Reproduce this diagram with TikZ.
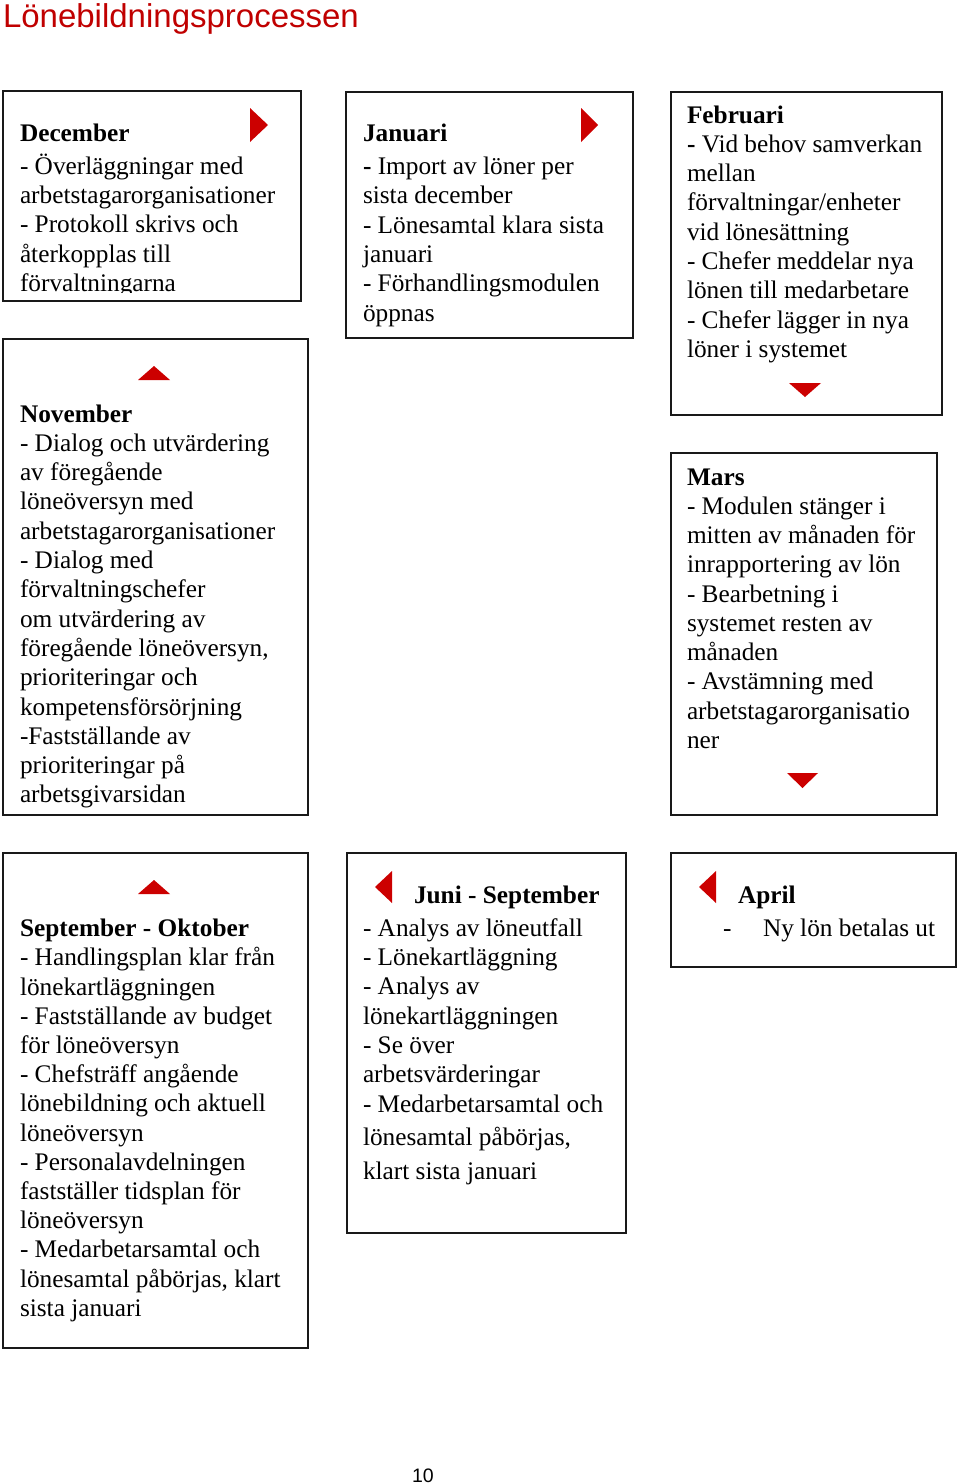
\documentclass[tikz,border=0pt]{standalone}
\usepackage{fontspec}
\setmainfont{Liberation Serif}
\newfontfamily\titlefont{Liberation Sans}
\definecolor{titlered}{RGB}{192,0,0}
\definecolor{trired}{RGB}{204,0,0}
\newcommand{\boxbody}[3]{\parbox[t]{#1}{\fontsize{25.3pt}{#2}\selectfont\raggedright #3}}
\tikzset{
  box/.style={draw=black!90, line width=1.8pt, anchor=north west, inner sep=0pt, outer sep=0pt},
  txt/.style={anchor=base west, inner sep=0pt, outer sep=0pt},
  bodyfont/.style={font=\fontsize{25.3pt}{29.2pt}\selectfont},
  tri/.style={fill=trired, draw=none},
}
\begin{document}
\begin{tikzpicture}[x=1pt,y=-1pt]
\useasboundingbox (0,0) rectangle (960,1484);
% title
\node[txt, font=\titlefont\fontsize{33pt}{37pt}\selectfont, text=titlered] (title) at (3,27) {Lönebildningsprocessen};
% boxes
\node[box, minimum width=298pt, minimum height=210pt] (dec) at (3,91) {};
\node[box, minimum width=305pt, minimum height=476pt] (nov) at (3,339) {};
\node[box, minimum width=287pt, minimum height=246pt] (jan) at (346,92) {};
\node[box, minimum width=271pt, minimum height=323pt] (feb) at (671,92) {};
\node[box, minimum width=266pt, minimum height=362pt] (mar) at (671,453) {};
\node[box, minimum width=305pt, minimum height=495pt] (sep) at (3,853) {};
\node[box, minimum width=279pt, minimum height=380pt] (jun) at (347,853) {};
\node[box, minimum width=285pt, minimum height=114pt] (apr) at (671,853) {};
% triangles
\path[tri] (250,108) -- (268,125) -- (250,142) -- cycle;
\path[tri] (581,108) -- (598,125) -- (581,142) -- cycle;
\path[tri] (138,380) -- (154,366) -- (170,380) -- cycle;
\path[tri] (789,383) -- (821,383) -- (805,397) -- cycle;
\path[tri] (787,773) -- (818,773) -- (802.5,788) -- cycle;
\path[tri] (138,894) -- (154,880) -- (170,894) -- cycle;
\path[tri] (392,871) -- (375,887) -- (392,903) -- cycle;
\path[tri] (716,871) -- (699,887) -- (716,903) -- cycle;
% texts
\begin{scope}
\clip (3,91) rectangle (301,292);
\node[txt] (dectxt) at (20,141.7) {\boxbody{280pt}{29.4pt}{\textbf{December}\\[3pt]- Överläggningar med\\arbetstagarorganisationer\\- Protokoll skrivs och\\återkopplas till\\förvaltningarna}};
\end{scope}
\node[txt] (novtxt) at (20,422) {\boxbody{286pt}{29.3pt}{\textbf{November}\\- Dialog och utvärdering\\av föregående\\löneöversyn med\\arbetstagarorganisationer\\- Dialog med\\förvaltningschefer\\om utvärdering av\\föregående löneöversyn,\\prioriteringar och\\kompetensförsörjning\\-Fastställande av\\prioriteringar på\\arbetsgivarsidan}};
\node[txt] (jantxt) at (363,141.7) {\boxbody{268pt}{29.3pt}{\textbf{Januari}\\[3.5pt]\textbf{-} Import av löner per\\sista december\\- Lönesamtal klara sista\\januari\\- Förhandlingsmodulen\\öppnas}};
\node[txt] (febtxt) at (687,123) {\boxbody{254pt}{29.3pt}{\textbf{Februari}\\\textbf{-} Vid behov samverkan\\mellan\\förvaltningar/enheter\\vid lönesättning\\- Chefer meddelar nya\\lönen till medarbetare\\- Chefer lägger in nya\\löner i systemet}};
\node[txt] (martxt) at (687,485) {\boxbody{250pt}{29.25pt}{\textbf{Mars}\\- Modulen stänger i\\mitten av månaden för\\inrapportering av lön\\- Bearbetning i\\systemet resten av\\månaden\\- Avstämning med\\arbetstagarorganisatio\\ner}};
\node[txt] (septxt) at (20,936.7) {\boxbody{286pt}{29.2pt}{\textbf{September - Oktober}\\- Handlingsplan klar från\\lönekartläggningen\\- Fastställande av budget\\för löneöversyn\\- Chefsträff angående\\lönebildning och aktuell\\löneöversyn\\- Personalavdelningen\\fastställer tidsplan för\\löneöversyn\\- Medarbetarsamtal och\\lönesamtal påbörjas, klart\\sista januari}};
\node[txt, bodyfont] (juntitle) at (414,903.3) {\textbf{Juni - September}};
\node[txt] (juntxt) at (363,936.3) {\boxbody{262pt}{29.3pt}{- Analys av löneutfall\\- Lönekartläggning\\- Analys av\\lönekartläggningen\\- Se över\\arbetsvärderingar\\- Medarbetarsamtal och\\[4.5pt]lönesamtal påbörjas,\\[4.5pt]klart sista januari}};
\node[txt, bodyfont] (aprtitle) at (738,903.3) {\textbf{April}};
\node[txt, bodyfont] (aprdash) at (723,936.7) {-};
\node[txt, bodyfont] (aprtxt) at (763,936.7) {Ny lön betalas ut};
% page number
\node[txt, font=\titlefont\fontsize{19.5pt}{22pt}\selectfont] (pagenum) at (412,1482) {10};
\end{tikzpicture}
\end{document}
